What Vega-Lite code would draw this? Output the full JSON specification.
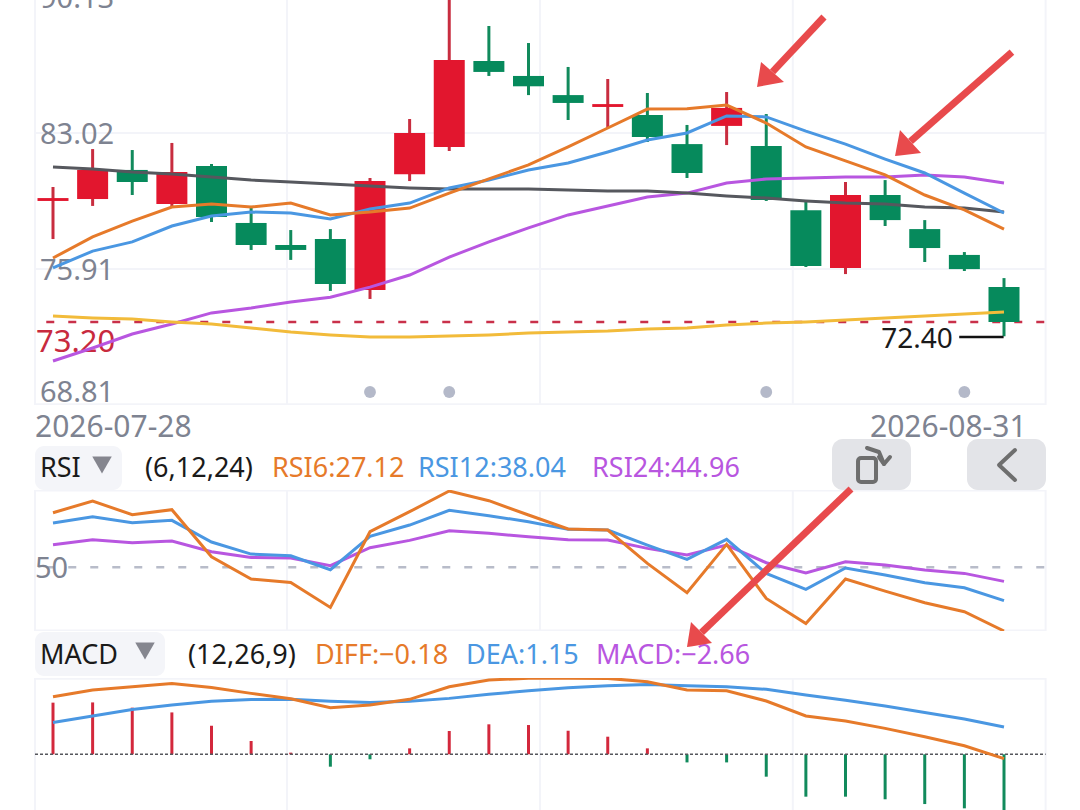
{"$schema":"https://vega.github.io/schema/vega-lite/v6.json","padding":0,"spacing":0,"bounds":"flush","background":"white","config":{"view":{"stroke":null},"text":{"font":"Noto Sans"}},
"resolve":{"scale":{"color":"independent"}},
"datasets":{
"candles":[
{"i":0,"date":"2026-07-28","open":79.47,"close":79.62,"high":80.20,"low":77.48,"dir":"up"},
{"i":1,"date":"2026-07-29","open":79.57,"close":81.09,"high":82.18,"low":79.21,"dir":"up"},
{"i":2,"date":"2026-07-30","open":81.09,"close":80.46,"high":82.13,"low":79.78,"dir":"down"},
{"i":3,"date":"2026-07-31","open":79.31,"close":80.98,"high":82.50,"low":79.15,"dir":"up"},
{"i":4,"date":"2026-08-03","open":81.30,"close":78.63,"high":81.40,"low":78.37,"dir":"down"},
{"i":5,"date":"2026-08-04","open":78.32,"close":77.17,"high":79.21,"low":76.91,"dir":"down"},
{"i":6,"date":"2026-08-05","open":77.17,"close":76.91,"high":77.95,"low":76.39,"dir":"down"},
{"i":7,"date":"2026-08-06","open":77.48,"close":75.13,"high":78.00,"low":74.77,"dir":"down"},
{"i":8,"date":"2026-08-07","open":74.82,"close":80.51,"high":80.67,"low":74.35,"dir":"up"},
{"i":9,"date":"2026-08-10","open":80.86,"close":83.02,"high":83.75,"low":80.51,"dir":"up"},
{"i":10,"date":"2026-08-11","open":82.29,"close":86.83,"high":90.60,"low":82.08,"dir":"up"},
{"i":11,"date":"2026-08-12","open":86.78,"close":86.21,"high":88.61,"low":86.00,"dir":"down"},
{"i":12,"date":"2026-08-13","open":86.00,"close":85.46,"high":87.72,"low":85.00,"dir":"down"},
{"i":13,"date":"2026-08-14","open":85.00,"close":84.59,"high":86.47,"low":83.70,"dir":"down"},
{"i":14,"date":"2026-08-17","open":84.38,"close":84.53,"high":85.84,"low":83.28,"dir":"up"},
{"i":15,"date":"2026-08-18","open":83.96,"close":82.81,"high":85.11,"low":82.55,"dir":"down"},
{"i":16,"date":"2026-08-19","open":82.44,"close":80.93,"high":83.44,"low":80.67,"dir":"down"},
{"i":17,"date":"2026-08-20","open":83.39,"close":84.33,"high":85.16,"low":82.39,"dir":"up"},
{"i":18,"date":"2026-08-21","open":82.34,"close":79.52,"high":84.01,"low":79.47,"dir":"down"},
{"i":19,"date":"2026-08-24","open":78.99,"close":76.07,"high":79.47,"low":76.02,"dir":"down"},
{"i":20,"date":"2026-08-25","open":75.97,"close":79.78,"high":80.46,"low":75.65,"dir":"up"},
{"i":21,"date":"2026-08-26","open":79.78,"close":78.47,"high":80.56,"low":78.16,"dir":"down"},
{"i":22,"date":"2026-08-27","open":78.00,"close":77.01,"high":78.47,"low":76.28,"dir":"down"},
{"i":23,"date":"2026-08-28","open":76.65,"close":75.91,"high":76.80,"low":75.81,"dir":"down"},
{"i":24,"date":"2026-08-31","open":74.97,"close":73.15,"high":75.44,"low":72.40,"dir":"down"}],
"ma":[
{"i":0,"orange":76.49,"blue":75.97,"purple":71.11,"gray":81.24,"yellow":73.46},
{"i":1,"orange":77.59,"blue":76.85,"purple":71.79,"gray":81.14,"yellow":73.36},
{"i":2,"orange":78.42,"blue":77.33,"purple":72.52,"gray":80.98,"yellow":73.30},
{"i":3,"orange":79.15,"blue":78.16,"purple":73.04,"gray":80.88,"yellow":73.15},
{"i":4,"orange":79.31,"blue":78.68,"purple":73.62,"gray":80.72,"yellow":73.04},
{"i":5,"orange":79.15,"blue":78.89,"purple":73.88,"gray":80.56,"yellow":72.83},
{"i":6,"orange":79.36,"blue":78.84,"purple":74.19,"gray":80.46,"yellow":72.62},
{"i":7,"orange":78.74,"blue":78.53,"purple":74.44,"gray":80.36,"yellow":72.47},
{"i":8,"orange":78.89,"blue":79.05,"purple":74.97,"gray":80.25,"yellow":72.36},
{"i":9,"orange":79.10,"blue":79.36,"purple":75.60,"gray":80.15,"yellow":72.36},
{"i":10,"orange":79.88,"blue":80.15,"purple":76.54,"gray":80.09,"yellow":72.41},
{"i":11,"orange":80.62,"blue":80.56,"purple":77.33,"gray":80.09,"yellow":72.47},
{"i":12,"orange":81.35,"blue":81.09,"purple":78.06,"gray":80.09,"yellow":72.57},
{"i":13,"orange":82.29,"blue":81.45,"purple":78.74,"gray":80.04,"yellow":72.62},
{"i":14,"orange":83.28,"blue":82.03,"purple":79.21,"gray":79.99,"yellow":72.67},
{"i":15,"orange":84.27,"blue":82.65,"purple":79.68,"gray":79.99,"yellow":72.78},
{"i":16,"orange":84.29,"blue":83.02,"purple":79.88,"gray":79.88,"yellow":72.83},
{"i":17,"orange":84.48,"blue":83.91,"purple":80.41,"gray":79.73,"yellow":72.99},
{"i":18,"orange":83.54,"blue":83.86,"purple":80.62,"gray":79.62,"yellow":73.09},
{"i":19,"orange":82.29,"blue":83.12,"purple":80.67,"gray":79.47,"yellow":73.15},
{"i":20,"orange":81.56,"blue":82.44,"purple":80.72,"gray":79.36,"yellow":73.25},
{"i":21,"orange":80.83,"blue":81.66,"purple":80.72,"gray":79.31,"yellow":73.36},
{"i":22,"orange":79.78,"blue":80.93,"purple":80.83,"gray":79.15,"yellow":73.46},
{"i":23,"orange":79.00,"blue":79.88,"purple":80.72,"gray":79.10,"yellow":73.56},
{"i":24,"orange":78.00,"blue":78.84,"purple":80.41,"gray":78.89,"yellow":73.67}],
"rsi":[
{"i":0,"RSI6":69.65,"RSI12":65.93,"RSI24":58.14},
{"i":1,"RSI6":73.85,"RSI12":68.21,"RSI24":59.94},
{"i":2,"RSI6":68.93,"RSI12":66.05,"RSI24":58.86},
{"i":3,"RSI6":70.73,"RSI12":66.89,"RSI24":59.46},
{"i":4,"RSI6":53.82,"RSI12":59.10,"RSI24":55.62},
{"i":5,"RSI6":45.79,"RSI12":54.78,"RSI24":53.58},
{"i":6,"RSI6":44.59,"RSI12":54.18,"RSI24":53.34},
{"i":7,"RSI6":35.60,"RSI12":49.15,"RSI24":50.59},
{"i":8,"RSI6":62.82,"RSI12":61.14,"RSI24":57.06},
{"i":9,"RSI6":70.01,"RSI12":65.21,"RSI24":59.70},
{"i":10,"RSI6":77.44,"RSI12":70.49,"RSI24":63.18},
{"i":11,"RSI6":73.97,"RSI12":68.57,"RSI24":62.22},
{"i":12,"RSI6":68.81,"RSI12":66.41,"RSI24":61.02},
{"i":13,"RSI6":63.78,"RSI12":63.66,"RSI24":59.94},
{"i":14,"RSI6":63.42,"RSI12":63.42,"RSI24":59.82},
{"i":15,"RSI6":51.42,"RSI12":58.02,"RSI24":56.82},
{"i":16,"RSI6":40.87,"RSI12":52.86,"RSI24":54.42},
{"i":17,"RSI6":58.26,"RSI12":60.06,"RSI24":58.02},
{"i":18,"RSI6":38.83,"RSI12":47.83,"RSI24":51.66},
{"i":19,"RSI6":29.84,"RSI12":42.07,"RSI24":47.95},
{"i":20,"RSI6":45.79,"RSI12":49.75,"RSI24":52.02},
{"i":21,"RSI6":41.47,"RSI12":47.23,"RSI24":50.82},
{"i":22,"RSI6":37.27,"RSI12":44.47,"RSI24":49.03},
{"i":23,"RSI6":34.04,"RSI12":42.67,"RSI24":47.83},
{"i":24,"RSI6":27.12,"RSI12":38.04,"RSI24":44.96}],
"macd":[
{"i":0,"DIFF":2.42,"DEA":1.34,"MACD":2.17,"zero":0,"dir":"up"},
{"i":1,"DIFF":2.70,"DEA":1.61,"MACD":2.18,"zero":0,"dir":"up"},
{"i":2,"DIFF":2.84,"DEA":1.88,"MACD":1.96,"zero":0,"dir":"up"},
{"i":3,"DIFF":2.97,"DEA":2.07,"MACD":1.76,"zero":0,"dir":"up"},
{"i":4,"DIFF":2.81,"DEA":2.23,"MACD":1.20,"zero":0,"dir":"up"},
{"i":5,"DIFF":2.56,"DEA":2.30,"MACD":0.56,"zero":0,"dir":"up"},
{"i":6,"DIFF":2.33,"DEA":2.31,"MACD":0.07,"zero":0,"dir":"up"},
{"i":7,"DIFF":1.96,"DEA":2.23,"MACD":-0.52,"zero":0,"dir":"down"},
{"i":8,"DIFF":2.07,"DEA":2.18,"MACD":-0.21,"zero":0,"dir":"down"},
{"i":9,"DIFF":2.31,"DEA":2.23,"MACD":0.25,"zero":0,"dir":"up"},
{"i":10,"DIFF":2.84,"DEA":2.35,"MACD":0.98,"zero":0,"dir":"up"},
{"i":11,"DIFF":3.12,"DEA":2.52,"MACD":1.26,"zero":0,"dir":"up"},
{"i":12,"DIFF":3.20,"DEA":2.67,"MACD":1.23,"zero":0,"dir":"up"},
{"i":13,"DIFF":3.20,"DEA":2.80,"MACD":0.99,"zero":0,"dir":"up"},
{"i":14,"DIFF":3.19,"DEA":2.88,"MACD":0.74,"zero":0,"dir":"up"},
{"i":15,"DIFF":3.05,"DEA":2.93,"MACD":0.25,"zero":0,"dir":"up"},
{"i":16,"DIFF":2.70,"DEA":2.88,"MACD":-0.34,"zero":0,"dir":"down"},
{"i":17,"DIFF":2.67,"DEA":2.84,"MACD":-0.34,"zero":0,"dir":"down"},
{"i":18,"DIFF":2.24,"DEA":2.73,"MACD":-0.94,"zero":0,"dir":"down"},
{"i":19,"DIFF":1.61,"DEA":2.49,"MACD":-1.78,"zero":0,"dir":"down"},
{"i":20,"DIFF":1.40,"DEA":2.27,"MACD":-1.78,"zero":0,"dir":"down"},
{"i":21,"DIFF":1.09,"DEA":2.03,"MACD":-1.89,"zero":0,"dir":"down"},
{"i":22,"DIFF":0.74,"DEA":1.76,"MACD":-2.09,"zero":0,"dir":"down"},
{"i":23,"DIFF":0.36,"DEA":1.48,"MACD":-2.27,"zero":0,"dir":"down"},
{"i":24,"DIFF":-0.18,"DEA":1.15,"MACD":-2.66,"zero":0,"dir":"down"}]
},
"vconcat":[
{"width":1080,"height":405,"resolve":{"scale":{"color":"independent"}},
"encoding":{"x":{"field":"i","type":"quantitative","scale":{"domain":[-1.3375,25.918],"nice":false,"zero":false},"axis":null},"y":{"field":"v","type":"quantitative","scale":{"domain":[68.81,89.968],"nice":false,"zero":false},"axis":null}},
"layer":[
{"data":{"values":[{"i":-0.454,"v":68.81,"v2":89.968},{"i":5.905,"v":68.81,"v2":89.968},{"i":12.29,"v":68.81,"v2":89.968},{"i":18.67,"v":68.81,"v2":89.968},{"i":25.05,"v":68.81,"v2":89.968}]},"mark":{"type":"rule","color":"#f3f4f9","strokeWidth":2,"clip":true},"encoding":{"y2":{"field":"v2"}}},
{"data":{"values":[{"i":-0.454,"i2":25.05,"v":83.02},{"i":-0.454,"i2":25.05,"v":75.91},{"i":-0.454,"i2":25.05,"v":68.85}]},"mark":{"type":"rule","color":"#f3f4f9","strokeWidth":2,"clip":true},"encoding":{"x2":{"field":"i2"}}},
{"data":{"values":[{"i":-0.17,"i2":25.05,"v":73.15}]},"mark":{"type":"rule","color":"#c9304a","strokeWidth":2.5,"strokeDash":[8,14],"clip":true},"encoding":{"x2":{"field":"i2"}}},
{"data":{"values":[{"i":-0.328,"v":90.13,"t":"90.13"},{"i":-0.328,"v":83.02,"t":"83.02"},{"i":-0.328,"v":75.91,"t":"75.91"},{"i":-0.328,"v":69.54,"t":"68.81"}]},"mark":{"type":"text","align":"left","baseline":"middle","fontSize":29,"dy":2,"color":"#7e8391","clip":true},"encoding":{"text":{"field":"t"}}},
{"data":{"values":[{"i":-0.429,"v":72.15,"t":"73.20"}]},"mark":{"type":"text","align":"left","baseline":"middle","fontSize":31,"dy":2,"color":"#c82a3e","clip":true},"encoding":{"text":{"field":"t"}}},
{"data":{"name":"candles"},"mark":{"type":"rule","strokeWidth":3,"clip":true},"encoding":{"y":{"field":"low","type":"quantitative"},"y2":{"field":"high"},"color":{"field":"dir","type":"nominal","scale":{"domain":["up","down"],"range":["#c82d3f","#118a5c"]},"legend":null}}},
{"data":{"name":"candles"},"mark":{"type":"rule","strokeWidth":31,"clip":true},"encoding":{"y":{"field":"open","type":"quantitative"},"y2":{"field":"close"},"color":{"field":"dir","type":"nominal","scale":{"domain":["up","down"],"range":["#e2162e","#068a5c"]},"legend":null}}},
{"data":{"name":"ma"},"transform":[{"fold":["purple","yellow","gray","blue","orange"],"as":["s","v"]}],"mark":{"type":"line","strokeWidth":3,"clip":true},"encoding":{"color":{"field":"s","type":"nominal","scale":{"domain":["orange","blue","purple","gray","yellow"],"range":["#e67a2a","#4a97e2","#b856e0","#56585e","#f2bb3a"]},"legend":null},"detail":{"field":"s"}}},
{"data":{"values":[{"i":8,"v":69.49},{"i":10,"v":69.49},{"i":18,"v":69.49},{"i":23,"v":69.49}]},"mark":{"type":"point","filled":true,"size":140,"color":"#b4b9c9","opacity":1}},
{"data":{"values":[{"i":22.87,"i2":23.99,"v":72.36}]},"mark":{"type":"rule","color":"#111111","strokeWidth":2.5},"encoding":{"x2":{"field":"i2"}}},
{"data":{"values":[{"i":22.71,"v":72.31,"t":"72.40"}]},"mark":{"type":"text","align":"right","baseline":"middle","fontSize":28,"dy":2,"color":"#1a1a1a"},"encoding":{"text":{"field":"t"}}},
{"data":{"values":[{"i":19.457,"i2":18.158,"v":89.08,"v2":86.21},{"i":24.2,"i2":21.64,"v":87.25,"v2":82.58}]},"mark":{"type":"rule","color":"#e84a4c","strokeWidth":7,"clip":true},"encoding":{"x2":{"field":"i2"},"y2":{"field":"v2"}}},
{"data":{"values":[{"i":17.767,"v":85.42,"v2":85.42},{"i":17.868,"v":86.73,"v2":85.46},{"i":18.448,"v":85.68,"v2":85.68}]},"mark":{"type":"area","color":"#e84a4c","clip":true},"encoding":{"y2":{"field":"v2"}}},
{"data":{"values":[{"i":21.25,"v":81.82,"v2":81.82},{"i":21.375,"v":83.18,"v2":81.85},{"i":21.906,"v":81.97,"v2":81.97}]},"mark":{"type":"area","color":"#e84a4c","clip":true},"encoding":{"y2":{"field":"v2"}}}
]},
{"width":1080,"height":85,"resolve":{"scale":{"color":"independent"}},
"encoding":{"x":{"field":"i","type":"quantitative","scale":{"domain":[-1.3375,25.918],"nice":false,"zero":false},"axis":null},"y":{"field":"row","type":"quantitative","scale":{"domain":[85,0],"nice":false,"zero":false},"axis":null}},
"layer":[
{"data":{"values":[{"i":-0.454,"i2":1.741,"row":41,"row2":85}]},"mark":{"type":"rect","color":"#f4f5f9","cornerRadius":9},"encoding":{"x2":{"field":"i2"},"y2":{"field":"row2"}}},
{"data":{"values":[{"i":19.659,"i2":21.653,"row":34,"row2":85},{"i":23.066,"i2":25.06,"row":34,"row2":85}]},"mark":{"type":"rect","color":"#e3e4e8","cornerRadius":11},"encoding":{"x2":{"field":"i2"},"y2":{"field":"row2"}}},
{"data":{"values":[{"i":-0.454,"row":21,"t":"2026-07-28"},{"i":20.618,"row":21,"t":"2026-08-31"}]},"mark":{"type":"text","align":"left","baseline":"middle","fontSize":30,"dy":2,"color":"#7e8391"},"encoding":{"text":{"field":"t"}}},
{"data":{"values":[{"i":-0.328,"row":63,"t":"RSI","k":"head"},{"i":2.322,"row":63,"t":"(6,12,24)","k":"head"},{"i":5.527,"row":63,"t":"RSI6:27.12","k":"a"},{"i":9.211,"row":63,"t":"RSI12:38.04","k":"b"},{"i":13.603,"row":63,"t":"RSI24:44.96","k":"c"}]},"mark":{"type":"text","align":"left","baseline":"middle","fontSize":27,"dy":1},"encoding":{"text":{"field":"t"},"color":{"field":"k","type":"nominal","scale":{"domain":["head","a","b","c"],"range":["#1a1a1a","#e67a2a","#4a97e2","#b856e0"]},"legend":null}}},
{"data":{"values":[{"i":1.237,"row":60}]},"mark":{"type":"point","shape":"triangle-down","filled":true,"size":380,"color":"#85868f","opacity":1}},
{"data":{"values":[{"i":20.316,"i2":20.77,"row":53,"row2":77}]},"mark":{"type":"rect","fill":null,"stroke":"#6e6e6e","strokeWidth":4,"cornerRadius":3},"encoding":{"x2":{"field":"i2"},"y2":{"field":"row2"}}},
{"data":{"values":[{"i":20.543,"row":43,"o":0,"g":"arc"},{"i":20.846,"row":47,"o":1,"g":"arc"},{"i":20.972,"row":59,"o":2,"g":"arc"},{"i":20.846,"row":52,"o":0,"g":"head"},{"i":20.972,"row":59,"o":1,"g":"head"},{"i":21.123,"row":52,"o":2,"g":"head"},{"i":24.278,"row":45,"o":0,"g":"back"},{"i":23.874,"row":60,"o":1,"g":"back"},{"i":24.278,"row":75,"o":2,"g":"back"}]},"mark":{"type":"line","color":"#6e6e6e","strokeWidth":4,"strokeCap":"round","strokeJoin":"round"},"encoding":{"detail":{"field":"g"},"order":{"field":"o","type":"quantitative"}}}
]},
{"width":1080,"height":141,"resolve":{"scale":{"color":"independent"}},
"encoding":{"x":{"field":"i","type":"quantitative","scale":{"domain":[-1.3375,25.918],"nice":false,"zero":false},"axis":null},"y":{"field":"v","type":"quantitative","scale":{"domain":[27.12,77.81],"nice":false,"zero":false},"axis":null}},
"layer":[
{"data":{"values":[{"i":-0.454,"v":27.12,"v2":77.81},{"i":5.905,"v":27.12,"v2":77.81},{"i":12.29,"v":27.12,"v2":77.81},{"i":18.67,"v":27.12,"v2":77.81},{"i":25.05,"v":27.12,"v2":77.81}]},"mark":{"type":"rule","color":"#f3f4f9","strokeWidth":2,"clip":true},"encoding":{"y2":{"field":"v2"}}},
{"data":{"values":[{"i":-0.454,"i2":25.05,"v":77.6},{"i":-0.454,"i2":25.05,"v":27.3}]},"mark":{"type":"rule","color":"#f3f4f9","strokeWidth":2,"clip":true},"encoding":{"x2":{"field":"i2"}}},
{"data":{"values":[{"i":-0.17,"i2":25.05,"v":50}]},"mark":{"type":"rule","color":"#b8bcc9","strokeWidth":2.5,"strokeDash":[8,14],"clip":true},"encoding":{"x2":{"field":"i2"}}},
{"data":{"values":[{"i":-0.454,"v":50,"t":"50"}]},"mark":{"type":"text","align":"left","baseline":"middle","fontSize":29,"dy":2,"color":"#7e8391"},"encoding":{"text":{"field":"t"}}},
{"data":{"name":"rsi"},"transform":[{"fold":["RSI24","RSI12","RSI6"],"as":["s","v"]}],"mark":{"type":"line","strokeWidth":3,"clip":true},"encoding":{"color":{"field":"s","type":"nominal","scale":{"domain":["RSI6","RSI12","RSI24"],"range":["#e67a2a","#4a97e2","#b856e0"]},"legend":null},"detail":{"field":"s"}}}
]},
{"width":1080,"height":47,"resolve":{"scale":{"color":"independent"}},
"encoding":{"x":{"field":"i","type":"quantitative","scale":{"domain":[-1.3375,25.918],"nice":false,"zero":false},"axis":null},"y":{"field":"row","type":"quantitative","scale":{"domain":[47,0],"nice":false,"zero":false},"axis":null}},
"layer":[
{"data":{"values":[{"i":-0.454,"i2":2.826,"row":1,"row2":45}]},"mark":{"type":"rect","color":"#f4f5f9","cornerRadius":9},"encoding":{"x2":{"field":"i2"},"y2":{"field":"row2"}}},
{"data":{"values":[{"i":-0.328,"row":23,"t":"MACD","k":"head"},{"i":3.407,"row":23,"t":"(12,26,9)","k":"head"},{"i":6.612,"row":23,"t":"DIFF:−0.18","k":"a"},{"i":10.423,"row":23,"t":"DEA:1.15","k":"b"},{"i":13.703,"row":23,"t":"MACD:−2.66","k":"c"}]},"mark":{"type":"text","align":"left","baseline":"middle","fontSize":27,"dy":2},"encoding":{"text":{"field":"t"},"color":{"field":"k","type":"nominal","scale":{"domain":["head","a","b","c"],"range":["#1a1a1a","#e67a2a","#4a97e2","#b856e0"]},"legend":null}}},
{"data":{"values":[{"i":2.322,"row":20}]},"mark":{"type":"point","shape":"triangle-down","filled":true,"size":380,"color":"#85868f","opacity":1}},
{"data":{"values":[{"i":20.139,"i2":16.366,"row":-142,"row2":1.5}]},"mark":{"type":"rule","color":"#e84a4c","strokeWidth":7},"encoding":{"x2":{"field":"i2"},"y2":{"field":"row2"}}},
{"data":{"values":[{"i":16.0,"row":16,"row2":16},{"i":16.101,"row":-9,"row2":15.4},{"i":16.631,"row":12,"row2":12}]},"mark":{"type":"area","color":"#e84a4c"},"encoding":{"y2":{"field":"row2"}}}
]},
{"width":1080,"height":132,"resolve":{"scale":{"color":"independent"}},
"encoding":{"x":{"field":"i","type":"quantitative","scale":{"domain":[-1.3375,25.918],"nice":false,"zero":false},"axis":null},"y":{"field":"v","type":"quantitative","scale":{"domain":[-2.34,3.206],"nice":false,"zero":false},"axis":null}},
"layer":[
{"data":{"values":[{"i":-0.454,"v":-2.34,"v2":3.206},{"i":5.905,"v":-2.34,"v2":3.206},{"i":12.29,"v":-2.34,"v2":3.206},{"i":18.67,"v":-2.34,"v2":3.206},{"i":25.05,"v":-2.34,"v2":3.206}]},"mark":{"type":"rule","color":"#f3f4f9","strokeWidth":2,"clip":true},"encoding":{"y2":{"field":"v2"}}},
{"data":{"values":[{"i":-0.454,"i2":25.05,"v":3.17}]},"mark":{"type":"rule","color":"#f3f4f9","strokeWidth":2,"clip":true},"encoding":{"x2":{"field":"i2"}}},
{"data":{"name":"macd"},"mark":{"type":"rule","strokeWidth":3,"clip":true},"encoding":{"y":{"field":"MACD","type":"quantitative"},"y2":{"field":"zero"},"color":{"field":"dir","type":"nominal","scale":{"domain":["up","down"],"range":["#d3283c","#118a5c"]},"legend":null}}},
{"data":{"values":[{"i":-0.454,"i2":25.05,"v":0}]},"mark":{"type":"rule","color":"#55565c","strokeWidth":1.5,"strokeDash":[3,2],"clip":true},"encoding":{"x2":{"field":"i2"}}},
{"data":{"name":"macd"},"transform":[{"fold":["DEA","DIFF"],"as":["s","v"]}],"mark":{"type":"line","strokeWidth":3,"clip":true},"encoding":{"color":{"field":"s","type":"nominal","scale":{"domain":["DIFF","DEA"],"range":["#e67a2a","#4a97e2"]},"legend":null},"detail":{"field":"s"}}}
]}
]}
